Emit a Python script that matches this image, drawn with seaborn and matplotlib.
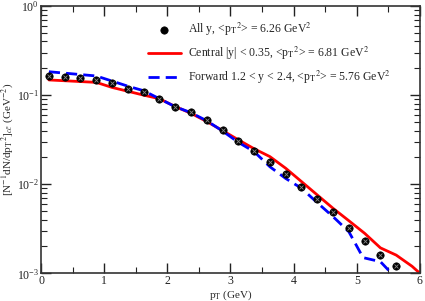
import numpy as np
import pandas as pd
import seaborn as sns
from matplotlib import pyplot as plt

# all y data points
pt_all = [0.125, 0.375, 0.625, 0.875, 1.125, 1.375, 1.625, 1.875, 2.125, 2.375, 2.625,
          2.875, 3.125, 3.375, 3.625, 3.875, 4.125, 4.375, 4.625, 4.875, 5.125, 5.375, 5.625]
y_all = [0.164, 0.161, 0.157, 0.148, 0.136, 0.118, 0.108, 0.0911, 0.0741, 0.0641, 0.0526,
         0.0406, 0.0305, 0.0238, 0.0176, 0.0130, 0.0093, 0.00677, 0.00484, 0.00325, 0.00232,
         0.00160, 0.00120]

# central |y| < 0.35
pt_central = [0.125, 0.875, 1.125, 1.625, 1.875, 2.125, 2.375, 2.625, 2.875, 3.125, 3.375,
              3.625, 3.875, 4.125, 4.375, 4.625, 4.875, 5.125, 5.375, 5.625, 5.875, 6.0]
y_central = [0.148, 0.139, 0.122, 0.100, 0.0911, 0.0745, 0.0625, 0.0505, 0.0400, 0.0315,
             0.0250, 0.0204, 0.0151, 0.0107, 0.00757, 0.00536, 0.00389, 0.00281, 0.00193,
             0.00160, 0.00120, 0.00100]

# forward 1.2 < y < 2.4
pt_forward = [0.125, 0.875, 1.375, 1.625, 1.875, 2.125, 2.375, 2.625, 2.875, 3.125, 3.375,
              3.625, 3.875, 4.125, 4.375, 4.625, 4.875, 5.1, 5.375, 5.55]
y_forward = [0.183, 0.164, 0.126, 0.112, 0.0911, 0.0741, 0.0635, 0.0515, 0.0395, 0.0295,
             0.0232, 0.0157, 0.0116, 0.0090, 0.0062, 0.00432, 0.00293, 0.00150, 0.00135,
             0.00100]

labels = [r'All y, <p$_\mathrm{T}$$^2$> = 6.26 GeV$^2$',
          r'Central |y| < 0.35, <p$_\mathrm{T}$$^2$> = 6.81 GeV$^2$',
          r'Forward 1.2 < y < 2.4, <p$_\mathrm{T}$$^2$> = 5.76 GeV$^2$']

df_all = pd.DataFrame({'pt': pt_all, 'y': y_all})
df_c = pd.DataFrame({'pt': pt_central, 'y': y_central})
df_f = pd.DataFrame({'pt': pt_forward, 'y': y_forward})

sns.set_style('ticks')
plt.rcParams['font.family'] = ['Liberation Serif', 'DejaVu Serif']
plt.rcParams['mathtext.fontset'] = 'stix'

fig = plt.figure(figsize=(4.25, 3.01), dpi=100)
ax = fig.add_axes([0.0965, 0.092, 0.8915, 0.888])

sns.scatterplot(data=df_all, x='pt', y='y', ax=ax, color='black', s=28, marker='o',
                edgecolor='black', linewidth=0.5, label=labels[0], zorder=3)
ax.scatter(pt_all, y_all, marker='x', s=8, color='#888888', linewidth=0.6, zorder=4)
sns.lineplot(data=df_c, x='pt', y='y', ax=ax, color='#ff0000', linewidth=2,
             label=labels[1], sort=False)
sns.lineplot(data=df_f, x='pt', y='y', ax=ax, color='#0000ff', linewidth=2,
             dashes=False, label=labels[2], sort=False)
ax.lines[-1].set_linestyle((0, (4, 2.2)))

ax.set_yscale('log')
ax.set_xlim(0, 6)
ax.set_ylim(1e-3, 1)
ax.set_xticks(range(7))
ax.set_xticks(np.arange(0.5, 6, 1), minor=True)
ax.tick_params(which='both', direction='in', top=True, right=True, labelsize=8.5,
               colors='#222222', pad=1.5)
ax.tick_params(which='major', length=7, width=1)
ax.tick_params(which='minor', length=4, width=0.8)
for s in ax.spines.values():
    s.set_linewidth(1.2)
    s.set_color('#333333')

ax.set_xlabel(r'p$_\mathrm{T}$ (GeV)', fontsize=8)
ax.set_ylabel(r'[N$^{-1}$dN/dp$_\mathrm{T}$$^2$]$_{c\bar{c}}$ (GeV$^{-2}$)', fontsize=8)
ax.xaxis.set_label_coords(0.5, -0.058)
ax.yaxis.set_label_coords(-0.068, 0.5)

h, l = ax.get_legend_handles_labels()
ax.legend(h, l, loc='upper left', bbox_to_anchor=(0.269, 0.962), frameon=False,
          fontsize=8.5, handlelength=2.8, labelspacing=0.55, borderaxespad=0,
          handletextpad=0.6)

fig.savefig('out.png', dpi=100)
